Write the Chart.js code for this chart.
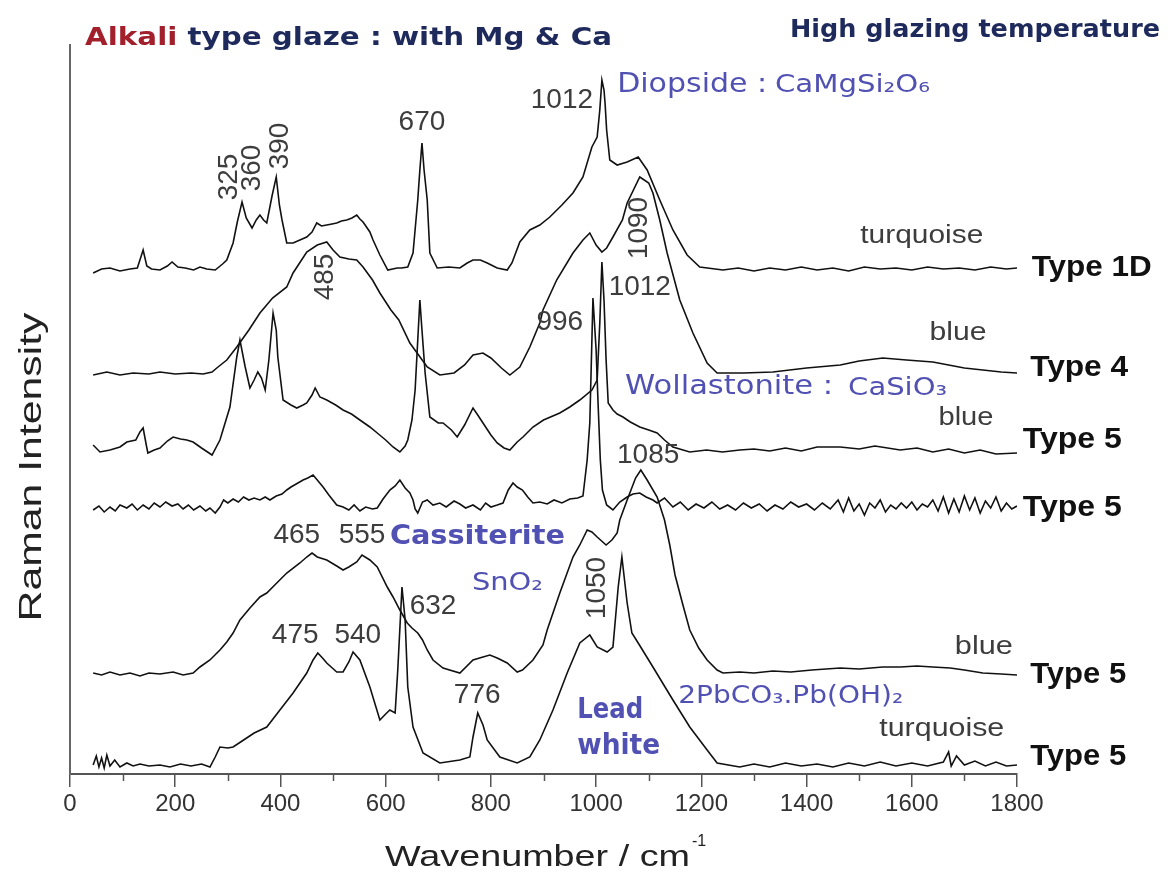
<!DOCTYPE html>
<html><head><meta charset="utf-8">
<script src="https://cdn.jsdelivr.net/npm/chart.js@4"></script>
<style>html,body{margin:0;padding:0;background:#fff;}canvas{display:block;}</style>
</head><body>
<canvas id="c" width="1169" height="879"></canvas>
<script>
// ---------- data (wavenumber / cm-1, intensity in arbitrary offset units) ----------
const wnType1D = [44,60,76,95,114,128,139,146,155,171,185,194,205,219,235,247,260,276,290,298,310,318,327,335,346,354,361,368,374,384,392,398,403,412,424,437,450,460,469,478,488,498,507,516,526,536,545,551,557,570,576,589,604,622,630,642,652,661,665,669,673,679,684,698,720,741,755,766,780,793,812,831,840,855,874,893,912,935,956,975,992,1002,1007,1011,1015,1017,1020,1026,1040,1059,1080,1097,1121,1146,1173,1197,1241,1270,1300,1330,1360,1390,1420,1450,1480,1510,1540,1570,1600,1630,1660,1690,1720,1750,1780,1800];
const intType1D = [501,505,506,503,505,506,524,508,505,504,508,512,507,506,504,507,505,504,510,514,531,552,572,556,546,554,559,554,551,578,597,569,554,531,531,534,537,542,551,548,549,550,551,553,554,556,559,555,552,542,534,519,504,506,506,507,521,574,604,631,604,574,521,506,507,506,511,514,514,511,506,504,511,532,544,549,557,569,581,597,627,637,664,694,684,671,644,614,609,612,617,604,574,544,519,507,504,506,503,506,504,507,504,506,503,507,505,506,504,507,505,506,504,507,505,506];

const wnType4 = [44,70,95,120,150,171,200,230,253,270,279,298,317,340,361,385,412,424,450,470,488,500,513,530,545,557,575,589,610,625,646,679,703,730,750,766,785,800,820,836,855,874,893,899,925,956,975,988,1000,1011,1020,1032,1050,1059,1083,1100,1108,1121,1135,1159,1184,1211,1230,1280,1336,1400,1464,1500,1545,1590,1640,1700,1735,1770,1800];
const intType4 = [399,402,399,401,400,402,400,401,400,402,406,414,427,444,461,476,487,501,522,529,532,524,517,515,514,507,494,481,464,454,431,407,399,401,409,419,421,416,406,399,407,427,451,464,494,521,534,541,529,522,526,537,554,571,597,591,581,554,521,474,441,411,401,401,402,406,409,413,416,414,412,406,404,402,401];

const wnType5a = [44,57,76,95,108,125,133,139,145,148,160,171,185,196,210,222,234,250,270,285,304,317,323,333,342,350,357,364,371,378,386,392,395,405,420,431,443,450,460,466,475,488,505,519,535,551,570,584,600,614,627,637,642,650,656,661,665,669,675,684,700,709,725,736,750,766,775,785,800,812,825,836,850,861,880,900,931,950,969,992,1002,1007,1011,1015,1019,1023,1032,1040,1051,1065,1083,1100,1116,1130,1146,1178,1210,1240,1273,1300,1330,1360,1390,1420,1464,1500,1530,1578,1610,1640,1670,1700,1730,1760,1800];
const intType5a = [329,322,324,327,332,334,342,346,329,321,324,326,333,337,335,334,332,326,319,334,367,417,434,407,386,394,402,396,384,414,461,444,417,374,369,366,369,371,379,386,377,374,369,364,360,354,347,341,334,327,322,328,334,354,384,434,474,444,401,357,351,351,344,337,349,366,359,351,339,331,326,324,332,337,347,354,361,367,374,384,394,451,512,474,414,371,364,360,357,352,347,344,341,334,327,322,324,322,324,325,323,326,323,327,327,325,328,324,326,322,325,321,324,320,321];

const wnType5b = [44,55,65,76,86,95,108,118,128,139,150,160,171,182,194,205,215,225,235,247,258,266,276,285,292,300,310,320,330,340,350,361,371,380,392,403,412,420,430,443,452,462,470,481,492,507,519,530,540,551,562,575,584,595,608,618,627,637,646,652,656,661,670,679,690,703,715,730,741,752,766,780,790,800,812,823,833,842,850,860,870,880,893,907,920,935,950,965,975,983,988,994,1000,1004,1008,1012,1020,1032,1045,1059,1070,1083,1095,1108,1116,1130,1146,1160,1175,1190,1205,1220,1235,1250,1265,1280,1295,1310,1325,1340,1355,1370,1385,1400,1415,1430,1445,1460,1470,1480,1490,1500,1510,1520,1530,1540,1550,1560,1570,1580,1590,1600,1610,1620,1630,1640,1650,1660,1670,1680,1690,1700,1710,1720,1730,1740,1750,1760,1770,1780,1790,1800];
const intType5b = [264,268,262,267,263,269,266,270,264,269,265,271,267,272,268,270,265,269,264,268,263,266,261,267,274,271,275,272,277,274,276,274,277,274,278,280,284,287,290,294,296,299,294,287,279,269,267,264,269,263,267,265,266,275,284,288,294,286,281,274,265,261,272,274,269,271,267,273,270,266,269,264,271,267,269,271,284,291,287,284,277,271,272,270,274,271,275,276,278,314,351,476,424,367,314,284,269,264,272,277,280,281,277,274,271,276,267,272,264,270,266,272,265,269,264,271,266,270,263,269,265,272,267,270,264,271,265,274,262,276,263,270,259,271,266,274,262,269,265,271,266,272,264,270,267,274,263,277,261,275,262,278,264,276,261,273,266,277,263,271,265,268];

const wnType5c = [44,60,76,95,114,133,150,171,196,215,234,247,266,285,298,310,323,342,361,374,393,412,437,450,460,470,488,507,519,530,545,555,570,584,603,614,627,641,650,661,670,679,690,709,741,766,785,798,812,831,850,860,880,899,907,931,956,969,983,992,1002,1019,1030,1040,1045,1059,1075,1085,1097,1116,1130,1140,1150,1165,1178,1195,1211,1230,1241,1273,1300,1336,1370,1410,1464,1500,1545,1578,1610,1640,1673,1700,1735,1770,1800];
const intType5c = [101,99,102,99,101,98,101,100,102,99,101,107,114,124,132,141,154,166,177,181,191,201,211,217,221,217,214,208,204,207,212,219,214,207,187,177,164,151,146,141,134,124,114,106,101,114,117,119,116,111,102,104,114,129,144,181,217,229,244,242,237,229,234,241,254,274,296,304,294,277,254,229,199,169,144,126,114,104,101,102,101,103,102,104,106,105,107,107,108,107,106,104,101,100,99];

const wnType5d = [44,50,55,60,65,70,76,85,95,108,120,133,150,171,190,210,230,250,266,276,285,300,310,330,350,374,399,424,450,462,471,480,488,507,519,530,538,551,570,589,600,608,618,623,631,637,642,652,671,703,741,760,766,775,785,793,817,850,874,893,918,945,969,988,1002,1021,1032,1042,1049,1059,1068,1080,1108,1146,1178,1211,1230,1273,1300,1330,1360,1390,1420,1450,1480,1510,1540,1570,1600,1630,1660,1670,1675,1685,1700,1720,1740,1760,1780,1800];
const intType5d = [9,18,7,16,6,19,8,14,7,11,8,10,8,9,7,10,8,10,7,17,27,26,27,34,41,47,64,81,101,114,121,116,111,102,102,112,122,114,87,54,60,64,61,104,187,154,87,47,21,11,14,17,37,61,49,34,17,11,17,34,64,101,131,139,127,122,127,187,217,171,141,131,107,74,47,24,11,7,10,7,11,8,10,7,11,8,12,8,11,8,12,22,8,18,9,13,8,12,8,9];

const xTickValues = [0,200,400,600,800,1000,1200,1400,1600,1800];
const xMinorTicks = [100,300,500,700,900,1100,1300,1500,1700];

// peak labels: text, wavenumber, intensity, rotated?
const peakText = ['1012','670','325','360','390','485','1090','1012','996','1085','465','555','632','475','540','776','1050'];
const peakWn   = [935,669,302,346,399,485,1083,1083,931,1099,431,555,690,428,547,774,1002];
const peakInt  = [674,652,597,606,628,497,546,487,452,319,239,239,168,139,139,79,186];
const peakRot  = [0,0,1,1,1,1,1,0,0,0,0,0,0,0,0,0,1];

const sampleText = ['turquoise','blue','blue','blue','turquoise'];
const sampleWn   = [1619,1688,1703,1737,1657];
const sampleInt  = [538,441,356,127,45];

const typeText = ['Type 1D','Type 4','Type 5','Type 5','Type 5','Type 5'];
const typeWn   = [1828,1825,1811,1811,1825,1825];
const typeInt  = [506,406,334,266,99,17];

const mineralText = ['Diopside :','CaMgSi\u2082O\u2086','Wollastonite :','CaSiO\u2083','Cassiterite','SnO\u2082','Lead','white','2PbCO\u2083.Pb(OH)\u2082'];
const mineralWn   = [1040,1340,1055,1479,608,764,964,964,1156];
const mineralInt  = [689,689,387,386,237,191,63,27,77];

// ---------- drawing ----------
function pts(xs, ys){ return xs.map((x,i)=>({x:x, y:ys[i]})); }

function txt(ctx, s, x, y, o){
  ctx.save();
  ctx.font = o.font; ctx.fillStyle = o.color;
  ctx.textBaseline = 'middle'; ctx.textAlign = o.align || 'center';
  ctx.translate(x, y);
  if (o.rot) ctx.rotate(-Math.PI/2);
  if (o.width){ const w = ctx.measureText(s).width; ctx.scale(o.width / w, 1); }
  ctx.fillText(s, 0, 0);
  ctx.restore();
}

const sans = "'Liberation Sans', Arial, sans-serif";
const comic = "'DejaVu Sans', 'Noto Sans', sans-serif";

const annot = {
  id: 'annot',
  afterDraw(chart){
    const ctx = chart.ctx, X = chart.scales.x, Y = chart.scales.y;
    const bottom = chart.chartArea.bottom;
    // minor ticks
    ctx.save(); ctx.strokeStyle = '#555'; ctx.lineWidth = 1.5;
    xMinorTicks.forEach(v=>{ const px = Math.round(X.getPixelForValue(v))+0.5; ctx.beginPath(); ctx.moveTo(px,bottom); ctx.lineTo(px,bottom+7); ctx.stroke(); });
    ctx.restore();
    // peak labels
    peakText.forEach((t,i)=> txt(ctx, t, X.getPixelForValue(peakWn[i]), Y.getPixelForValue(peakInt[i]), {font:'28px '+sans, color:'#3d3d3d', rot: peakRot[i]}));
    const sW = [123,57,55,58,125];
    sampleText.forEach((t,i)=> txt(ctx, t, X.getPixelForValue(sampleWn[i]), Y.getPixelForValue(sampleInt[i]), {font:'26px '+sans, color:'#3d3d3d', width:sW[i]}));
    const tW = [120,98,99,99,96,96];
    typeText.forEach((t,i)=> txt(ctx, t, X.getPixelForValue(typeWn[i]), Y.getPixelForValue(typeInt[i]), {font:'bold 29px '+sans, color:'#111', align:'left', width:tW[i]}));
    const mFont = ['27px','25px','27px','25px','bold 26px','25px','bold 28px','bold 28px','24px'];
    const mW = [150,155,208,99,175,71,66,83,225];
    mineralText.forEach((t,i)=> txt(ctx, t, X.getPixelForValue(mineralWn[i]), Y.getPixelForValue(mineralInt[i]), {font: mFont[i]+' '+comic, color:'#5151b3', align:'left', width:mW[i]}));
    // chart titles
    ctx.save();
    ctx.font = 'bold 25px '+comic; ctx.textBaseline='middle'; ctx.textAlign='left';
    const full = 'Alkali type glaze : with Mg & Ca';
    const sc = 527 / ctx.measureText(full).width;
    ctx.translate(85, 38); ctx.scale(sc, 1);
    ctx.fillStyle = '#a1202c'; ctx.fillText('Alkali', 0, 0);
    const w1 = ctx.measureText('Alkali').width;
    ctx.fillStyle = '#1f2a5c'; ctx.fillText(' type glaze : with Mg & Ca', w1, 0);
    ctx.restore();
    txt(ctx, 'High glazing temperature', 790, 30, {font:'bold 25px '+comic, color:'#1f2a5c', align:'left', width:370});
    // axis titles
    txt(ctx, 'Raman Intensity', 32, 467, {font:'32px '+sans, color:'#222', rot:1, width:309});
    txt(ctx, 'Wavenumber / cm', 385, 858, {font:'30px '+sans, color:'#222', align:'left', width:305});
    txt(ctx, '-1', 692, 842, {font:'16px '+sans, color:'#222', align:'left'});
  }
};

const mk = (xs, ys) => ({data: pts(xs, ys), borderColor:'#111', borderWidth:1.6, pointRadius:0, tension:0, fill:false});

new Chart(document.getElementById('c'), {
  type: 'line',
  data: { datasets: [
    mk(wnType1D, intType1D), mk(wnType4, intType4), mk(wnType5a, intType5a),
    mk(wnType5b, intType5b), mk(wnType5c, intType5c), mk(wnType5d, intType5d)
  ]},
  options: {
    responsive:false, animation:false, devicePixelRatio:1,
    layout:{padding:{left:0, right:152, top:45, bottom:0}},
    plugins:{legend:{display:false}, tooltip:{enabled:false}},
    scales:{
      x:{type:'linear', min:0, max:1800,
         afterBuildTicks: s => { s.ticks = xTickValues.map(v=>({value:v})); },
         afterFit: s => { s.height = 105; },
         ticks:{autoSkip:false, maxRotation:0, padding:3, color:'#333', font:{family:sans, size:24},
                callback: v => String(v)},
         grid:{display:true, drawOnChartArea:false, drawTicks:true, tickLength:13, color:'#555', lineWidth:1.5},
         border:{display:true, color:'#555', width:2}},
      y:{type:'linear', min:0, max:729,
         afterFit: s => { s.width = 70; },
         ticks:{display:false},
         grid:{display:false, drawTicks:false},
         border:{display:true, color:'#666', width:2}}
    }
  },
  plugins:[annot]
});
</script>
</body></html>
